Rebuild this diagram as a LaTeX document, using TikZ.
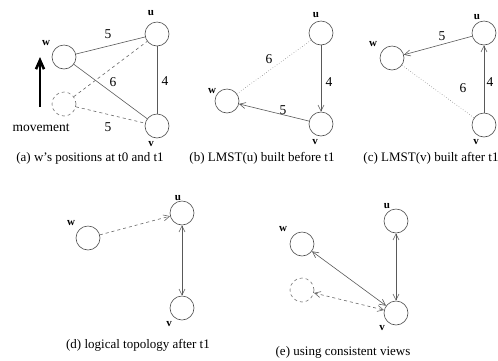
\documentclass[tikz,border=0pt]{standalone}
\usepackage{fontspec}
\setmainfont{Liberation Serif}
\usetikzlibrary{arrows.meta}
\begin{document}
\begin{tikzpicture}[x=1pt,y=-1pt,
  nd/.style={circle,draw=black!70,line width=0.6pt,minimum size=24pt,inner sep=0pt},
  ghost/.style={nd,dashed,draw=black!55},
  edge/.style={draw=black!65,line width=0.6pt},
  dashedge/.style={edge,dashed,draw=black!60},
  dotedge/.style={draw=black!45,line width=0.6pt,dotted},
  tip/.style={-{Straight Barb[length=6pt,width=6pt]}},
  bitip/.style={{Straight Barb[length=6pt,width=6pt]}-{Straight Barb[length=6pt,width=6pt]}},
  lab/.style={font=\bfseries\fontsize{11}{12}\selectfont,inner sep=0pt},
  wt/.style={font=\fontsize{13.5}{15}\selectfont,inner sep=0pt},
  captxt/.style={font=\fontsize{13}{15}\selectfont,inner sep=0pt}]
\useasboundingbox (0,0) rectangle (498,360);
% (a)
\node[nd] (aw) at (64,57) {};
\node[nd] (au) at (157,34) {};
\node[nd] (av) at (157,126) {};
\node[ghost] (ag) at (64,104) {};
\draw[edge] (aw) -- (au);
\draw[edge] (aw) -- (av);
\draw[edge] (au) -- (av);
\draw[dashedge] (ag) -- (au);
\draw[dashedge] (ag) -- (av);
\node[lab] (awl) at (46,43) {w};
\node[lab] (aul) at (151,13) {u};
\node[lab] (avl) at (151,144) {v};
\node[wt] (a5a) at (108,34) {5};
\node[wt] (a6) at (113,82) {6};
\node[wt] (a4) at (165,81) {4};
\node[wt] (a5b) at (108,127) {5};
\coordinate (mvA) at (40,107);
\coordinate (mvB) at (40,57);
\draw[line width=2.6pt,-{Straight Barb[length=9pt,width=8pt]}] (mvA) -- (mvB);
\node[wt] (mv) at (41,128) {movement};
\node[captxt] (capa) at (90,158) {(a) w's positions at t0 and t1};
% (b)
\node[nd] (bu) at (321,33) {};
\node[nd] (bw) at (227,101) {};
\node[nd] (bv) at (321,124) {};
\draw[dotedge] (bu) -- (bw);
\draw[edge,tip] (bu) -- (bv);
\draw[edge,tip] (bv) -- (bw);
\node[lab] (bul) at (316,15) {u};
\node[lab] (bwl) at (212,91) {w};
\node[lab] (bvl) at (315,142) {v};
\node[wt] (b6) at (269,59) {6};
\node[wt] (b4) at (329,82) {4};
\node[wt] (b5) at (283,110) {5};
\node[captxt] (capb) at (262,158) {(b) LMST(u) built before t1};
% (c)
\node[nd] (cu) at (484,33) {};
\node[nd] (cw) at (392,58) {};
\node[nd] (cv) at (484,125) {};
\draw[edge,tip] (cu) -- (cw);
\draw[dotedge] (cw) -- (cv);
\draw[edge,tip] (cv) -- (cu);
\node[lab] (cul) at (477,17) {u};
\node[lab] (cwl) at (373,44) {w};
\node[lab] (cvl) at (476,142) {v};
\node[wt] (c5) at (442,36) {5};
\node[wt] (c6) at (463,88) {6};
\node[wt] (c4) at (490,82) {4};
\node[captxt] (capc) at (431,158) {(c) LMST(v) built after t1};
% (d)
\node[nd] (du) at (182,213) {};
\node[nd] (dw) at (88,238) {};
\node[nd] (dv) at (182,308) {};
\draw[dashedge,tip] (dw) -- (du);
\draw[edge,bitip] (du) -- (dv);
\node[lab] (dul) at (178,198) {u};
\node[lab] (dwl) at (71,223) {w};
\node[lab] (dvl) at (169,324) {v};
\node[captxt] (capd) at (138,345) {(d) logical topology after t1};
% (e)
\node[nd] (eu) at (396,221) {};
\node[nd] (ew) at (302,244) {};
\node[ghost] (eg) at (302,290) {};
\node[nd] (ev) at (396,313) {};
\draw[edge,bitip] (eu) -- (ev);
\draw[edge,bitip] (ew) -- (ev);
\draw[dashedge,bitip] (eg) -- (ev);
\node[lab] (eul) at (387,206) {u};
\node[lab] (ewl) at (283,229) {w};
\node[lab] (evl) at (382,328) {v};
\node[captxt] (cape) at (343,352) {(e) using consistent views};
\end{tikzpicture}
\end{document}
